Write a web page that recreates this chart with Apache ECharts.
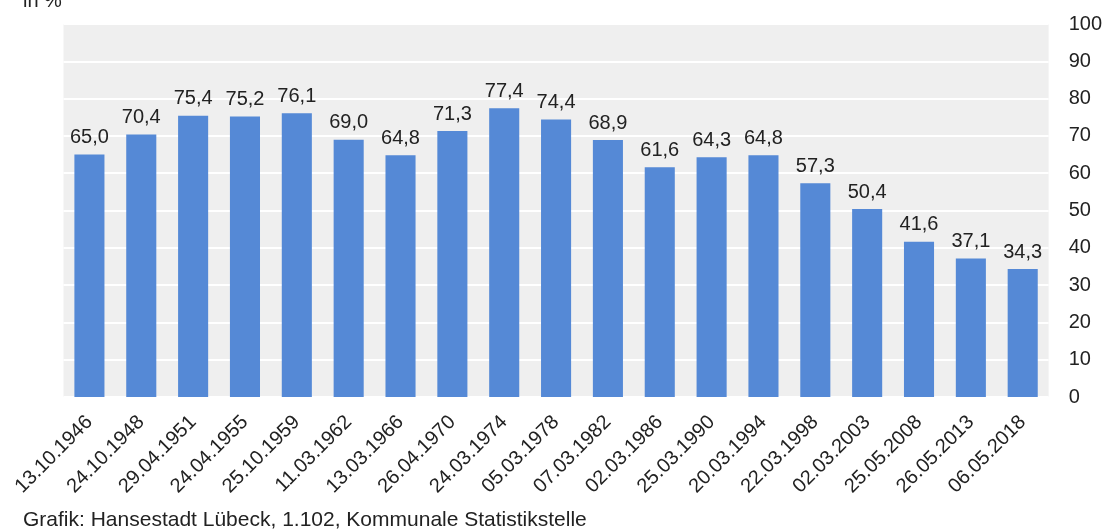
<!DOCTYPE html>
<html>
<head>
<meta charset="utf-8">
<script src="https://cdn.jsdelivr.net/npm/echarts@6/dist/echarts.min.js"></script>
<style>
  html, body { margin: 0; padding: 0; background: #fff; }
  #chart { width: 1105px; height: 529px; }
</style>
</head>
<body>
<div id="chart"></div>
<script>
// Wahlbeteiligung, Daten
var dates = ['13.10.1946', '24.10.1948', '29.04.1951', '24.04.1955', '25.10.1959',
  '11.03.1962', '13.03.1966', '26.04.1970', '24.03.1974', '05.03.1978', '07.03.1982',
  '02.03.1986', '25.03.1990', '20.03.1994', '22.03.1998', '02.03.2003', '25.05.2008',
  '26.05.2013', '06.05.2018'];
var values = [65.0, 70.4, 75.4, 75.2, 76.1, 69.0, 64.8, 71.3, 77.4, 74.4, 68.9,
  61.6, 64.3, 64.8, 57.3, 50.4, 41.6, 37.1, 34.3];

var fontFam = '"Liberation Sans", Arial, sans-serif';
var myChart = echarts.init(document.getElementById('chart'));

var option = {
  animation: false,
  textStyle: { fontFamily: fontFam },
  grid: {
    left: 63.5,
    right: 54.5,
    top: 24,
    bottom: 132,
    show: true,
    backgroundColor: '#efefef',
    borderWidth: 0
  },
  graphic: [
    { type: 'text', left: 23, top: -9,
      style: { text: 'in %', font: '20px ' + fontFam, fill: '#222' } },
    { type: 'text', left: 23, top: 510,
      style: { text: 'Grafik: Hansestadt Lübeck, 1.102, Kommunale Statistikstelle', font: '21px ' + fontFam, fill: '#222' } }
  ],
  xAxis: {
    type: 'category',
    data: dates,
    axisLine: { show: false },
    axisTick: { show: false },
    axisLabel: {
      rotate: 45,
      interval: 0,
      margin: 22,
      fontSize: 20,
      color: '#222',
      fontFamily: fontFam
    }
  },
  yAxis: {
    type: 'value',
    position: 'right',
    min: 0,
    max: 100,
    interval: 10,
    axisLine: { show: false },
    axisTick: { show: false },
    axisLabel: { margin: 20, fontSize: 20, color: '#222', fontFamily: fontFam },
    splitLine: { lineStyle: { color: '#ffffff', width: 2 } }
  },
  series: [{
    type: 'bar',
    data: values,
    barWidth: '58%',
    itemStyle: { color: '#5589d6' },
    label: {
      show: true,
      position: 'top',
      distance: 7,
      fontSize: 20,
      color: '#222',
      fontFamily: fontFam,
      formatter: function (p) {
        return p.value.toFixed(1).replace('.', ',');
      }
    }
  }]
};

myChart.setOption(option);
</script>
</body>
</html>
